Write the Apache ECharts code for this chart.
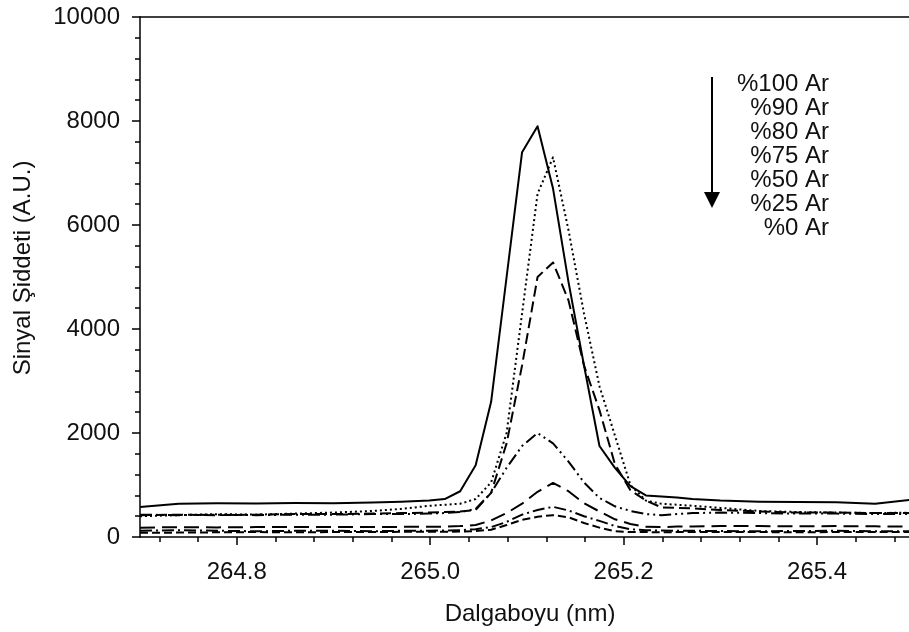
<!DOCTYPE html>
<html>
<head>
<meta charset="utf-8">
<script src="https://cdn.jsdelivr.net/npm/echarts@6/dist/echarts.min.js"></script>
<style>
html,body{margin:0;padding:0;background:#fff;}
#chart{width:909px;height:632px;}
</style>
</head>
<body>
<div id="chart"></div>
<script>
// Wavelength grid (nm)
var wavelengths = [264.70, 264.74, 264.78, 264.82, 264.86, 264.90, 264.94, 264.97,
  264.999, 265.015, 265.031, 265.047, 265.063, 265.079, 265.095, 265.111, 265.127,
  265.143, 265.159, 265.175, 265.191, 265.207, 265.223, 265.239, 265.255, 265.271,
  265.30, 265.34, 265.38, 265.42, 265.46, 265.50];

var ar100 = [575, 640, 650, 645, 655, 650, 665, 680,
  700, 730, 880, 1380, 2600, 5000, 7400, 7900, 6700,
  4900, 3300, 1750, 1330, 980, 800, 780, 760, 730,
  700, 680, 675, 670, 640, 720];
var ar90 = [400, 420, 440, 430, 450, 470, 500, 540,
  600, 620, 640, 730, 1050, 2000, 4300, 6600, 7300,
  5900, 4300, 2900, 1950, 1000, 700, 640, 620, 600,
  560, 500, 480, 470, 460, 470];
var ar80 = [420, 430, 420, 430, 440, 440, 450, 460,
  470, 480, 490, 520, 850, 1800, 3300, 5000, 5280,
  4550, 3300, 2440, 1400, 900, 700, 570, 560, 550,
  520, 490, 470, 470, 460, 460];
var ar75 = [430, 420, 430, 420, 430, 430, 440, 440,
  450, 460, 480, 540, 850, 1330, 1750, 2000, 1800,
  1450, 1050, 750, 590, 500, 440, 420, 440, 460,
  470, 460, 450, 450, 440, 440];
var ar50 = [180, 190, 185, 190, 190, 195, 190, 195,
  195, 200, 210, 230, 320, 460, 640, 870, 1040,
  880, 650, 490, 340, 250, 195, 190, 200, 200,
  210, 210, 205, 210, 205, 200];
var ar25 = [120, 130, 120, 110, 120, 120, 110, 120,
  120, 125, 130, 150, 190, 290, 430, 520, 580,
  510, 400, 310, 210, 150, 130, 125, 120, 120,
  115, 110, 115, 120, 110, 110];
var ar0 = [80, 85, 90, 95, 90, 95, 95, 100,
  100, 100, 105, 115, 140, 230, 330, 390, 420,
  380, 270, 180, 110, 95, 95, 90, 95, 95,
  95, 95, 90, 95, 95, 95];

var legendLabels = ['%100 Ar', '%90 Ar', '%80 Ar', '%75 Ar', '%50 Ar', '%25 Ar', '%0 Ar'];
var xMajorTicks = [264.8, 265.0, 265.2, 265.4];
var xMinorTicks = [264.72, 264.76, 264.84, 264.88, 264.92, 264.96, 265.04, 265.08, 265.12, 265.16,
  265.24, 265.28, 265.32, 265.36, 265.44, 265.48];
var xLabel = 'Dalgaboyu (nm)';
var yLabel = 'Sinyal Şiddeti (A.U.)';

var FONT = 'Liberation Sans, Arial, sans-serif';
function pairs(vals){ return wavelengths.map(function(w,i){ return [w, vals[i]]; }); }

var seriesDefs = [
  {data: ar100, type: 'solid', w: 2},
  {data: ar90, type: [2, 3], w: 2},
  {data: ar80, type: [11, 5], w: 2},
  {data: ar75, type: [12, 4, 2, 4, 2, 4], w: 2},
  {data: ar50, type: [15, 7], w: 2},
  {data: ar25, type: [12, 4, 2, 4], w: 2},
  {data: ar0, type: [8, 4], w: 2}
];

var chart = echarts.init(document.getElementById('chart'), null, {renderer: 'canvas'});

var axisCommon = {
  type: 'value', min: 264.7, max: 265.495,
  splitLine: {show: false}
};

var option = {
  animation: false,
  backgroundColor: '#fff',
  grid: {left: 140, top: 17, right: 0, height: 520, show: false},
  xAxis: [
    Object.assign({}, axisCommon, {
      position: 'bottom',
      axisLine: {show: true, onZero: false, lineStyle: {color: '#000', width: 1.5}},
      axisTick: {show: true, customValues: xMajorTicks, length: 8, inside: false, lineStyle: {color: '#000', width: 1.5}},
      axisLabel: {show: true, customValues: xMajorTicks, margin: 23, fontSize: 24, fontFamily: FONT, color: '#111',
        formatter: function(v){ return v.toFixed(1); }}
    }),
    Object.assign({}, axisCommon, {
      position: 'bottom',
      axisLine: {show: false},
      axisTick: {show: true, customValues: xMinorTicks, length: 5, inside: false, lineStyle: {color: '#000', width: 1.5}},
      axisLabel: {show: false}
    }),
    Object.assign({}, axisCommon, {
      position: 'top',
      axisLine: {show: true, onZero: false, lineStyle: {color: '#000', width: 1.5}},
      axisTick: {show: false},
      axisLabel: {show: false}
    })
  ],
  yAxis: {
    type: 'value', min: 0, max: 10000, interval: 2000,
    axisLine: {show: true, onZero: false, lineStyle: {color: '#000', width: 1.5}},
    axisTick: {show: true, length: 8, lineStyle: {color: '#000', width: 1.5}},
    minorTick: {show: true, splitNumber: 5, length: 5, lineStyle: {color: '#000', width: 1.5}},
    axisLabel: {margin: 20, fontSize: 24, fontFamily: FONT, color: '#111',
      formatter: function(v){ return String(v); }},
    splitLine: {show: false}
  },
  series: seriesDefs.map(function(s, i){
    return {
      type: 'line', name: legendLabels[i], xAxisIndex: 0, yAxisIndex: 0,
      data: pairs(s.data), showSymbol: false, smooth: false, clip: true,
      lineStyle: {color: '#000', width: s.w, type: s.type, cap: 'butt', join: 'round'},
      z: 10 - i
    };
  }),
  graphic: [
    {type: 'text', z: 100, x: 530, y: 614, style: {text: xLabel, x: 0, y: 0, textAlign: 'center', textVerticalAlign: 'middle', font: '24px ' + FONT, fill: '#111'}},
    {type: 'text', z: 100, x: 23, y: 268, rotation: Math.PI / 2, style: {text: yLabel, x: 0, y: 0, textAlign: 'center', textVerticalAlign: 'middle', font: '24px ' + FONT, fill: '#111'}},
    {type: 'line', z: 100, shape: {x1: 712, y1: 77, x2: 712, y2: 195}, style: {stroke: '#000', lineWidth: 2}},
    {type: 'polygon', z: 100, shape: {points: [[704, 192], [720, 192], [712, 208]]}, style: {fill: '#000'}}
  ].concat(legendLabels.map(function(t, i){
    return {type: 'text', z: 100, style: {text: t, x: 829, y: 84 + 24 * i, textAlign: 'right', textVerticalAlign: 'middle', font: '24px ' + FONT, fill: '#111'}};
  }))
};
chart.setOption(option);
</script>
</body>
</html>
